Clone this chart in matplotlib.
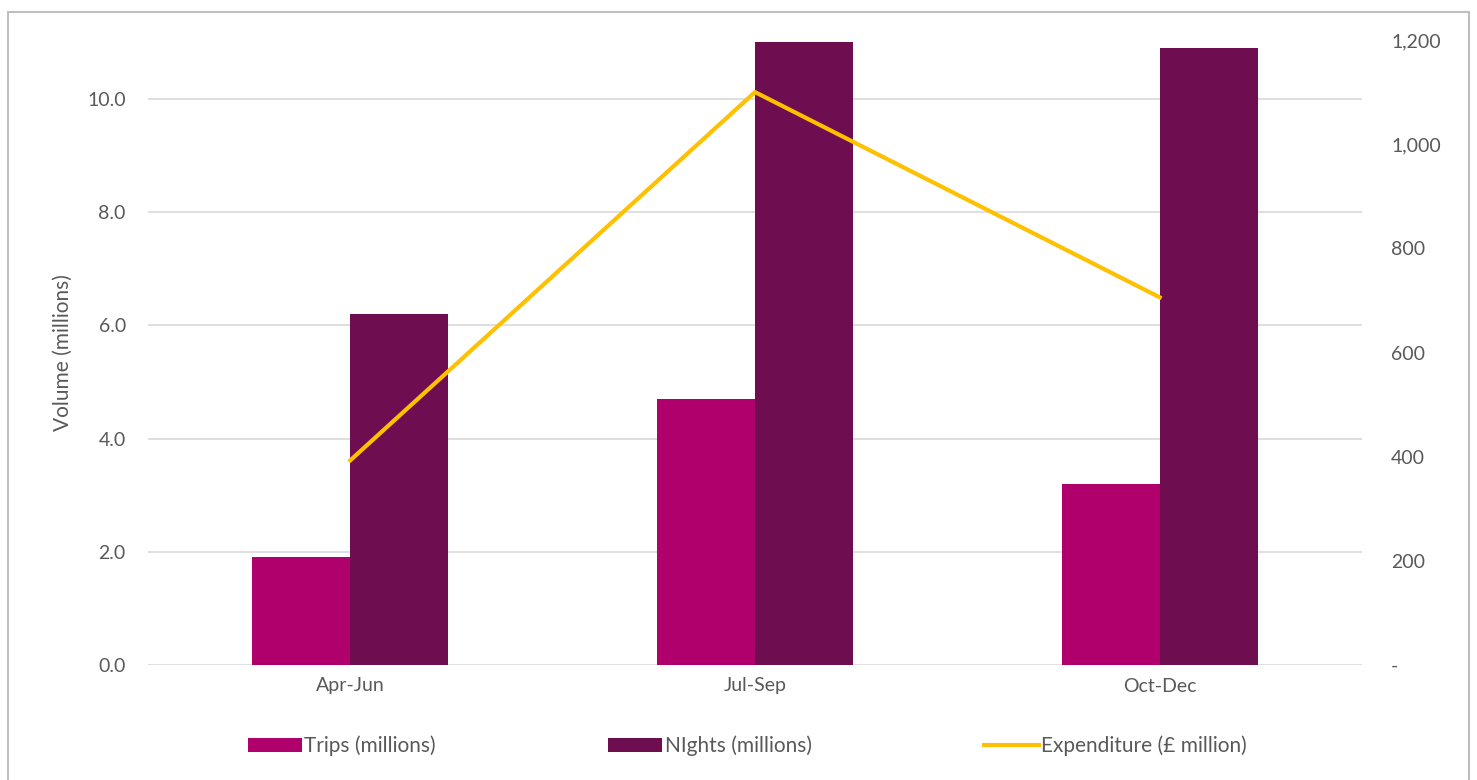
import matplotlib
matplotlib.use("Agg")
import matplotlib.pyplot as plt
from matplotlib.patches import Rectangle
from matplotlib.ticker import FuncFormatter
import numpy as np

plt.rcParams['font.family'] = ['Lato', 'DejaVu Sans']

quarters = ['Apr-Jun', 'Jul-Sep', 'Oct-Dec']
trips = [1.9, 4.7, 3.2]
nights = [6.2, 11.0, 10.9]
expenditure = [393, 1100, 706]

txt = '#595959'
fs = 14
fig = plt.figure(figsize=(14.77, 7.80), dpi=100)
ax = fig.add_axes([148/1477, 1-665/780, (1362-148)/1477, (665-40)/780])
x = np.arange(len(quarters))
w = 0.242
b1 = ax.bar(x - w/2, trips, w, color='#B0006B', label='Trips (millions)', zorder=2)
b2 = ax.bar(x + w/2, nights, w, color='#6E0E50', label='NIghts (millions)', zorder=2)
ax.set_xlim(-0.5, 2.5)
ax.set_ylim(0, 11.04)
ax.set_yticks(np.arange(0, 11, 2))
ax.yaxis.set_major_formatter(FuncFormatter(lambda v, p: f'{v:.1f}'))
ax.grid(axis='y', color='#D9D9D9', linewidth=1.2, zorder=0)
ax.set_axisbelow(True)
for s in ax.spines.values():
    s.set_visible(False)
ax.set_xticks(x)
ax.set_xticklabels(quarters)
ax.tick_params(axis='both', length=0, colors=txt, labelsize=fs)
ax.tick_params(axis='y', pad=16)
ax.tick_params(axis='x', pad=9)
ax.set_ylabel('Volume (millions)', color=txt, fontsize=fs + 1, labelpad=10)

ax2 = ax.twinx()
l1, = ax2.plot(x, expenditure, color='#FFC000', linewidth=3, label='Expenditure (£ million)', zorder=3)
ax2.set_ylim(0, 1200)
ax2.set_yticks(np.arange(0, 1201, 200))
ax2.yaxis.set_major_formatter(FuncFormatter(lambda v, p: '-' if v == 0 else f'{v:,.0f}'))
ax2.tick_params(axis='y', length=0, colors=txt, labelsize=fs, pad=21)
for s in ax2.spines.values():
    s.set_visible(False)

fig.legend([b1, b2, l1], ['Trips (millions)', 'NIghts (millions)', 'Expenditure (£ million)'],
           loc='center', bbox_to_anchor=(747/1477, 1-746/780), ncol=3, frameon=False,
           fontsize=fs + 1, labelcolor=txt, handlelength=2.6, handleheight=0.6,
           handletextpad=0.1, columnspacing=8.3)

fig.patches.append(Rectangle((8/1477, -0.01), 1461/1477, 1.01-12/780, transform=fig.transFigure,
                             fill=False, edgecolor='#BFBFBF', linewidth=1.5))

fig.savefig('out.png', dpi=100)
